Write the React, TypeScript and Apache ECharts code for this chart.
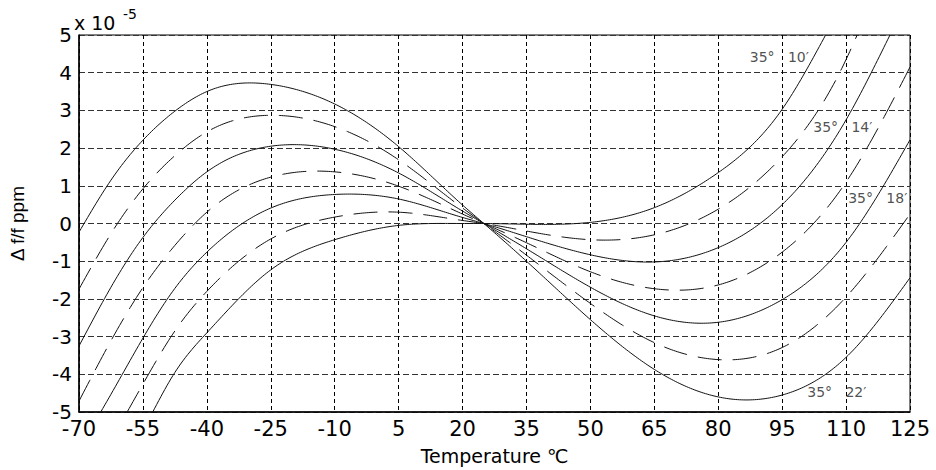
import React, { useEffect, useRef } from "react";
import * as echarts from "echarts";

// ---- axes ----
const X_MIN = -70;
const X_MAX = 125;
const X_STEP = 15;
const Y_MIN = -5;
const Y_MAX = 5;
const Y_STEP = 1;

// ---- curves (temperature in °C, Δf/f in units of 1e-5) ----
const tFull = [-70, -62.5, -55, -47.5, -40, -25, -10, 5, 20, 25, 35, 50, 65, 80, 95, 110, 125];

const c22T = tFull;
const c22V = [-0.23, 1.15, 2.21, 2.98, 3.5, 3.69, 3.17, 2.04, 0.49, 0, -1.0, -2.55, -3.87, -4.6, -4.55, -3.55, -1.44];

const d20T = tFull;
const d20V = [-1.74, -0.27, 0.92, 1.8, 2.43, 2.87, 2.57, 1.69, 0.41, 0, -0.84, -2.12, -3.16, -3.61, -3.29, -1.95, 0.25];

const c18T = tFull;
const c18V = [-3.25, -1.69, -0.37, 0.62, 1.37, 2.05, 1.97, 1.34, 0.33, 0, -0.67, -1.69, -2.45, -2.62, -2.02, -0.5, 2.22];

const d16T = tFull;
const d16V = [-4.71, -3.11, -1.7, -0.58, 0.3, 1.23, 1.37, 0.99, 0.25, 0, -0.51, -1.28, -1.73, -1.63, -0.76, 1.1, 4.15];

const c14T = [-64.9, -62.5, -55, -47.5, -40, -25, -10, 5, 20, 25, 35, 50, 65, 80, 95, 110, 120.3];
const c14V = [-5, -4.53, -3.04, -1.72, -0.76, 0.41, 0.77, 0.65, 0.16, 0, -0.35, -0.83, -1.02, -0.64, 0.5, 2.75, 5];

const d12T = [-58.7, -55, -47.5, -40, -25, -10, 5, 20, 25, 35, 50, 65, 80, 95, 110, 112.6];
const d12V = [-5, -4.26, -2.85, -1.8, -0.41, 0.17, 0.3, 0.08, 0, -0.2, -0.43, -0.3, 0.38, 1.77, 4.35, 5];

const c10T = [-52.7, -47.5, -40, -25, -10, 5, 20, 25, 35, 50, 65, 80, 95, 105.2];
const c10V = [-5, -3.95, -2.9, -1.23, -0.43, -0.05, 0, 0, -0.02, 0.03, 0.42, 1.35, 3.03, 5];

const curveNames = ["35°22′", "35°20′", "35°18′", "35°16′", "35°14′", "35°12′", "35°10′"];
const curveTs = [c22T, d20T, c18T, d16T, c14T, d12T, c10T];
const curveVs = [c22V, d20V, c18V, d16V, c14V, d12V, c10V];

// ---- curve annotations (data coordinates of the label's left-middle) ----
const annoText = ["35°   10′", "35°   14′", "35°   18′", "35°   22′"];
const annoT = [87.4, 102.3, 110.5, 100.9];
const annoV = [4.41, 2.55, 0.67, -4.46];

const xTitle = "Temperature ℃";
const yTitle = "Δ f/f ppm";

// natural cubic spline through the read points (a smooth line drawn through them)
function splineSampler(xs: number[], ys: number[]) {
  const n = xs.length;
  const h: number[] = [];
  for (let i = 0; i < n - 1; i++) h.push(xs[i + 1] - xs[i]);
  const m = new Array(n).fill(0);
  if (n > 2) {
    const a: number[] = [], b: number[] = [], c: number[] = [], d: number[] = [];
    for (let i = 1; i < n - 1; i++) {
      a.push(h[i - 1]);
      b.push(2 * (h[i - 1] + h[i]));
      c.push(h[i]);
      d.push(6 * ((ys[i + 1] - ys[i]) / h[i] - (ys[i] - ys[i - 1]) / h[i - 1]));
    }
    const k = b.length;
    for (let i = 1; i < k; i++) {
      const w = a[i] / b[i - 1];
      b[i] -= w * c[i - 1];
      d[i] -= w * d[i - 1];
    }
    const sol = new Array(k).fill(0);
    sol[k - 1] = d[k - 1] / b[k - 1];
    for (let i = k - 2; i >= 0; i--) sol[i] = (d[i] - c[i] * sol[i + 1]) / b[i];
    for (let i = 0; i < k; i++) m[i + 1] = sol[i];
  }
  const out: [number, number][] = [];
  for (let i = 0; i < n - 1; i++) {
    const steps = Math.max(4, Math.ceil(h[i] * 2));
    for (let s = 0; s < steps; s++) {
      const t = s / steps;
      const x = xs[i] + t * h[i];
      const A = 1 - t, B = t;
      const y =
        A * ys[i] + B * ys[i + 1] +
        ((A * A * A - A) * m[i] + (B * B * B - B) * m[i + 1]) * (h[i] * h[i]) / 6;
      out.push([x, y]);
    }
  }
  out.push([xs[n - 1], ys[n - 1]]);
  return out;
}

export default function App() {
  const ref = useRef<HTMLDivElement>(null);

  useEffect(() => {
    if (!ref.current) return;
    const chart = echarts.init(ref.current, undefined, { renderer: "svg" });

    const series: any[] = curveNames.map((name, i) => {
      const samples = splineSampler(curveTs[i], curveVs[i]);
      const dashed = i % 2 === 1;
      return {
        name,
        type: "custom",
        clip: true,
        silent: true,
        encode: { x: 0, y: 1 },
        data: [[curveTs[i][0] - X_MIN, curveVs[i][0]]],
        renderItem: (_params: any, api: any) => {
          const pts = samples.map(([t, v]) => api.coord([t - X_MIN, v]));
          return {
            type: "polyline",
            shape: { points: pts },
            style: {
              stroke: "#111",
              lineWidth: 1,
              fill: "none",
              lineDash: dashed ? [24, 11] : null,
            },
          };
        },
        z: 3,
      };
    });

    series.push({
      name: "labels",
      type: "scatter",
      symbolSize: 0,
      silent: true,
      data: annoText.map((s, i) => ({ value: [annoT[i] - X_MIN, annoV[i]], name: s })),
      label: {
        show: true,
        position: "right",
        distance: 0,
        formatter: (p: any) => p.name,
        color: "#222",
        fontFamily: "DejaVu Sans",
        fontSize: 14,
      },
      z: 4,
    });

    const fontTick = "DejaVu Sans";

    chart.setOption({
      animation: false,
      backgroundColor: "#fff",
      grid: {
        left: 75,
        top: 35,
        width: 835,
        height: 388,
        show: true,
        borderColor: "#000",
        borderWidth: 1,
        backgroundColor: "transparent",
      },
      xAxis: {
        type: "value",
        min: 0,
        max: X_MAX - X_MIN,
        interval: X_STEP,
        name: xTitle,
        nameLocation: "middle",
        nameGap: 34,
        nameTextStyle: { fontFamily: fontTick, fontSize: 19, color: "#000" },
        axisLine: { show: true, onZero: false, lineStyle: { color: "#000", width: 1.5 } },
        axisTick: { show: false },
        axisLabel: {
          color: "#000",
          fontFamily: fontTick,
          fontSize: 21,
          lineHeight: 15,
          margin: 9,
          formatter: (u: number) => String(Math.round(u + X_MIN)),
        },
        splitLine: { show: true, lineStyle: { color: "#000", width: 1, type: [4, 3] } },
      },
      yAxis: {
        type: "value",
        min: Y_MIN,
        max: Y_MAX,
        interval: Y_STEP,
        name: yTitle,
        nameLocation: "middle",
        nameGap: 52,
        nameRotate: 90,
        nameTextStyle: { fontFamily: "Liberation Sans", fontSize: 19, color: "#000" },
        axisLine: { show: true, onZero: false, lineStyle: { color: "#000", width: 1.5 } },
        axisTick: { show: false },
        axisLabel: { color: "#000", fontFamily: fontTick, fontSize: 20, lineHeight: 14, margin: 7 },
        splitLine: { show: true, lineStyle: { color: "#333", width: 1, type: [6, 3] } },
      },
      graphic: [
        { type: "text", left: 74, top: 13, style: { text: "x 10", font: '19px "DejaVu Sans"', fill: "#000" } },
        { type: "text", left: 123, top: 7, style: { text: "-5", font: '14px "DejaVu Sans"', fill: "#000" } },
      ],
      series,
    });

    return () => chart.dispose();
  }, []);

  return (
    <div
      ref={ref}
      style={{ position: "fixed", left: 0, top: 0, width: 936, height: 470, background: "#fff" }}
    />
  );
}
